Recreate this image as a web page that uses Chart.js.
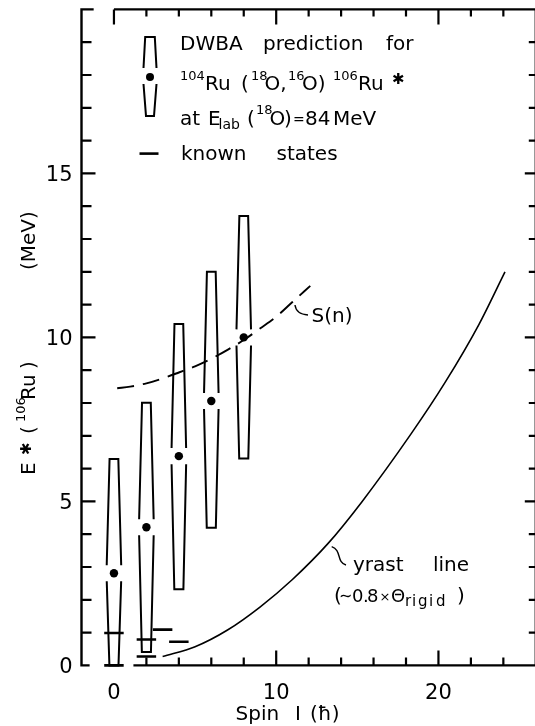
<!DOCTYPE html>
<html>
<head>
<meta charset="utf-8">
<script src="https://cdn.jsdelivr.net/npm/chart.js@4/dist/chart.umd.min.js"></script>
<style>
  html, body { margin: 0; padding: 0; background: #fff; overflow: hidden; }
</style>
</head>
<body>
<canvas id="chart" width="540" height="726"></canvas>
<script>
// DWBA predictions: spin, upper end, centroid, lower end (MeV)
const SPINS = [0, 2, 4, 6, 8];
const DWBA_TOP = [6.29, 8.01, 10.41, 12.0, 13.7];
const DWBA_CENTROID = [2.81, 4.21, 6.38, 8.06, 10.0];
const DWBA_BOTTOM = [0, 0.41, 2.32, 4.2, 6.31];

// known states of 106Ru
const KNOWN_SPIN = [0, 0, 2, 2, 3, 4];
const KNOWN_E = [0, 0.99, 0.27, 0.79, 1.09, 0.72];

// neutron separation energy S(n)
const SN_SPIN = [0.2, 1, 2, 3, 4, 5, 6, 7, 8, 9, 10, 11, 12.1];
const SN_E = [8.45, 8.5, 8.6, 8.75, 8.93, 9.12, 9.35, 9.62, 9.92, 10.27, 10.63, 11.08, 11.57];

// yrast line (~0.8 x rigid)
const YRAST_SPIN = [3.0, 5, 7, 9, 11, 13.2, 15.3, 18.3, 20.4, 22.5, 24.1];
const YRAST_E = [0.27, 0.57, 1.08, 1.78, 2.62, 3.72, 5.0, 7.05, 8.62, 10.4, 12.0];

// tick labels
const X_LABELS = [0, 10, 20];
const Y_LABELS = [0, 5, 10, 15];

const FONT = '"DejaVu Sans", sans-serif';
const INK = '#000';

// spindle shape (half widths in spin units, gap round the dot in MeV)
const HW_TOP = 0.27, HW_MID = 0.46, HW_BOT = 0.28, GAP = 0.245;
const HW_KNOWN = 0.6;

function spindlePoints() {
  const pts = [];
  SPINS.forEach(function(s, i) {
    const t = DWBA_TOP[i], c = DWBA_CENTROID[i], b = DWBA_BOTTOM[i];
    const fu = (t - (c + GAP)) / (t - c);
    const wu = HW_TOP + (HW_MID - HW_TOP) * fu;
    pts.push({x: s - wu, y: c + GAP}, {x: s - HW_TOP, y: t}, {x: s + HW_TOP, y: t}, {x: s + wu, y: c + GAP}, {x: s, y: null});
    const fl = GAP / (c - b);
    const wl = HW_MID + (HW_BOT - HW_MID) * fl;
    pts.push({x: s - wl, y: c - GAP}, {x: s - HW_BOT, y: b}, {x: s + HW_BOT, y: b}, {x: s + wl, y: c - GAP}, {x: s, y: null});
  });
  return pts;
}

function knownPoints() {
  const pts = [];
  KNOWN_SPIN.forEach(function(s, i) {
    pts.push({x: s - HW_KNOWN, y: KNOWN_E[i]}, {x: s + HW_KNOWN, y: KNOWN_E[i]}, {x: s, y: null});
  });
  return pts;
}

function seriesPoints(xs, ys) {
  return xs.map(function(x, i) { return {x: x, y: ys[i]}; });
}

// draws rich text pieces: [text, x, dy, size, weight]
function rich(ctx, y, pieces) {
  pieces.forEach(function(p) {
    ctx.font = (p[4] || 'normal') + ' ' + (p[3] || 20) + 'px ' + FONT;
    ctx.fillText(p[0], p[1], y + (p[2] || 0));
  });
}

const framePlugin = {
  id: 'frame',
  afterDatasetsDraw: function(chart) {
    const ctx = chart.ctx, xs = chart.scales.x, ys = chart.scales.y;
    const a = chart.chartArea;
    const X = function(v) { return xs.getPixelForValue(v); };
    const Y = function(v) { return ys.getPixelForValue(v); };
    ctx.save();
    ctx.strokeStyle = '#000';
    ctx.lineWidth = 2.4;
    ctx.lineCap = 'butt';
    ctx.beginPath();
    // left and right
    ctx.moveTo(a.left, a.top); ctx.lineTo(a.left, a.bottom);
    ctx.moveTo(a.right, a.top); ctx.lineTo(a.right, a.bottom);
    // bottom, with the little breaks of the original
    ctx.moveTo(a.left - 1.2, a.bottom); ctx.lineTo(X(-1.5), a.bottom);
    ctx.moveTo(X(1.2), a.bottom); ctx.lineTo(a.right, a.bottom);
    // top
    ctx.moveTo(a.left - 1.2, a.top); ctx.lineTo(X(-1.25), a.top);
    ctx.moveTo(X(0), a.top); ctx.lineTo(a.right, a.top);
    ctx.stroke();

    ctx.lineWidth = 2.2;
    ctx.beginPath();
    for (let v = 1; v < 20; v++) {
      const major = v % 5 === 0;
      const py = Y(v);
      ctx.moveTo(a.left, py); ctx.lineTo(a.left + (major ? 14 : 10), py);
      ctx.moveTo(a.right, py); ctx.lineTo(a.right - (major ? 11 : 7), py);
    }
    for (let v = 0; v < 26; v += 2) {
      const major = v % 10 === 0;
      const px = X(v);
      if (v > 0) { ctx.moveTo(px, a.bottom); ctx.lineTo(px, a.bottom - (major ? 15 : 8)); }
      ctx.moveTo(px, a.top); ctx.lineTo(px, a.top + (major ? 15 : 7));
    }
    ctx.stroke();
    ctx.restore();
  },
  afterDraw: function(chart) {
    const ctx = chart.ctx;
    ctx.save();
    ctx.fillStyle = INK;
    ctx.strokeStyle = '#000';
    ctx.textBaseline = 'alphabetic';
    ctx.textAlign = 'left';

    // legend symbol: DWBA spindle with dot
    ctx.lineWidth = 2;
    ctx.beginPath();
    ctx.moveTo(143.5, 68); ctx.lineTo(145.2, 37); ctx.lineTo(154.8, 37); ctx.lineTo(156.5, 68);
    ctx.moveTo(143.5, 84); ctx.lineTo(146, 116); ctx.lineTo(154, 116); ctx.lineTo(156.5, 84);
    ctx.stroke();
    ctx.beginPath(); ctx.arc(150, 77, 4, 0, Math.PI * 2); ctx.fill();
    // legend: known states dash
    ctx.lineWidth = 2.6;
    ctx.beginPath(); ctx.moveTo(139.5, 153.6); ctx.lineTo(158.5, 153.6); ctx.stroke();

    rich(ctx, 49.5, [['DWBA', 180], ['prediction', 263], ['for', 386]]);
    rich(ctx, 90, [
      ['104', 180, -10, 13], ['Ru', 205], ['(', 241], ['18', 251, -10, 13], ['O,', 264.5],
      ['16', 288, -10, 13], ['O)', 302], ['106', 333, -10, 13], ['Ru', 358], ['\u2731', 392, -6, 15, 'bold']
    ]);
    rich(ctx, 124.6, [
      ['at', 180], ['E', 208], ['lab', 218.5, 4, 14], ['(', 247], ['18', 256, -11, 13],
      ['O', 269.5], [')', 284], ['=', 293, -1, 14], ['84', 305], ['MeV', 333]
    ]);
    rich(ctx, 160, [['known', 181], ['states', 276.5]]);

    // S(n) label with hook
    ctx.lineWidth = 1.4;
    ctx.beginPath();
    ctx.moveTo(295, 305); ctx.quadraticCurveTo(296, 314, 308, 315);
    ctx.stroke();
    rich(ctx, 321.7, [['S(n)', 311.5]]);

    // yrast label with hook
    ctx.beginPath();
    ctx.moveTo(331.7, 546.7); ctx.bezierCurveTo(342, 550, 336, 562, 346, 565);
    ctx.stroke();
    rich(ctx, 570.5, [['yrast', 353], ['line', 433]]);
    rich(ctx, 602, [
      ['(', 334], ['\u223C', 339, -1, 16], ['0', 352, 0, 18], ['.', 363, 0, 18], ['8', 367, 0, 18],
      ['\u00D7', 379.5, -1, 13], ['\u0398', 391, 0, 18], ['r', 405, 4, 15], ['i', 412, 4, 15],
      ['g', 418, 4, 15], ['i', 429, 4, 15], ['d', 436, 4, 15], [')', 457]
    ]);

    // x axis title
    rich(ctx, 720, [['Spin', 235.5], ['I', 295], ['(\u0127)', 310]]);

    // y axis title, rotated
    ctx.save();
    ctx.translate(35, 475);
    ctx.rotate(-Math.PI / 2);
    rich(ctx, 0, [['E', 0], ['\u2731', 20, -4, 15, 'bold'], ['(', 41], ['106', 53, -10, 13], ['Ru', 75], [')', 106]]);
    ctx.restore();
    ctx.save();
    ctx.translate(35, 270);
    ctx.rotate(-Math.PI / 2);
    rich(ctx, 0, [['(MeV)', 0]]);
    ctx.restore();

    ctx.restore();
  }
};

Chart.defaults.font.family = FONT;
Chart.defaults.color = INK;

const ctx = document.getElementById('chart').getContext('2d');
const chart = new Chart(ctx, {
  type: 'line',
  data: {
    datasets: [{
      label: 'DWBA prediction',
      data: spindlePoints(),
      borderColor: '#000',
      borderWidth: 2,
      pointRadius: 0,
      spanGaps: false,
      tension: 0,
      clip: false
    }, {
      label: 'centroid',
      data: seriesPoints(SPINS, DWBA_CENTROID),
      showLine: false,
      pointRadius: 4.2,
      pointBackgroundColor: '#000',
      pointBorderWidth: 0,
      clip: false
    }, {
      label: 'known states',
      data: knownPoints(),
      borderColor: '#000',
      borderWidth: 2.6,
      pointRadius: 0,
      spanGaps: false,
      clip: false
    }, {
      label: 'S(n)',
      data: seriesPoints(SN_SPIN, SN_E),
      borderColor: '#000',
      borderWidth: 1.9,
      borderDash: [17, 9],
      pointRadius: 0,
      cubicInterpolationMode: 'monotone'
    }, {
      label: 'yrast line',
      data: seriesPoints(YRAST_SPIN, YRAST_E),
      borderColor: '#000',
      borderWidth: 1.6,
      pointRadius: 0,
      cubicInterpolationMode: 'monotone'
    }]
  },
  options: {
    responsive: false,
    animation: false,
    layout: { padding: { top: 9.4, right: 4, left: 0, bottom: 0 } },
    plugins: { legend: { display: false }, tooltip: { enabled: false } },
    scales: {
      x: {
        type: 'linear',
        min: -2,
        max: 26,
        grid: { display: false, drawTicks: false },
        border: { display: false },
        afterFit: function(scale) {
          scale.height = 60.6;
          scale.paddingLeft = 0;
          scale.paddingRight = 0;
        },
        ticks: {
          stepSize: 2,
          autoSkip: false,
          maxRotation: 0,
          padding: 16,
          color: INK,
          font: { size: 21 },
          callback: function(v) { return X_LABELS.indexOf(v) >= 0 ? String(v) : ''; }
        }
      },
      y: {
        min: 0,
        max: 20,
        grid: { display: false, drawTicks: false },
        border: { display: false },
        afterFit: function(scale) {
          scale.width = 81.5;
          scale.paddingTop = 0;
          scale.paddingBottom = 0;
        },
        ticks: {
          stepSize: 1,
          autoSkip: false,
          padding: 9,
          labelOffset: 2.5,
          color: INK,
          font: { size: 21 },
          callback: function(v) { return Y_LABELS.indexOf(v) >= 0 ? String(v) : ''; }
        }
      }
    }
  },
  plugins: [framePlugin]
});
</script>
</body>
</html>
